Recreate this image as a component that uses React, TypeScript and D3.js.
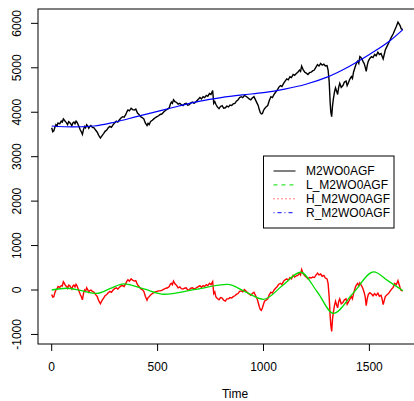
import * as d3 from "d3";

// [time, value] pairs
const levelSeries: [number, number][] = [
  [0, 3650], [5, 3560], [10, 3580], [15, 3660], [20, 3720], [25, 3690], [30, 3760], [38, 3740],
  [45, 3800], [50, 3780], [55, 3850], [60, 3820], [65, 3790], [70, 3760], [75, 3720], [80, 3790],
  [85, 3770], [90, 3740], [95, 3700], [100, 3760], [105, 3780], [110, 3740], [115, 3800],
  [120, 3770], [125, 3720], [130, 3660], [135, 3600], [140, 3560], [145, 3500], [150, 3610],
  [155, 3680], [160, 3650], [165, 3720], [170, 3690], [175, 3640], [180, 3680], [185, 3700],
  [192, 3660], [200, 3650], [207, 3600], [215, 3550], [222, 3480], [230, 3420], [237, 3470],
  [245, 3520], [252, 3570], [260, 3600], [267, 3650], [275, 3680], [282, 3660], [290, 3720],
  [297, 3760], [305, 3800], [312, 3780], [320, 3830], [327, 3870], [335, 3900], [342, 3890],
  [350, 3950], [355, 4010], [360, 4050], [367, 4030], [375, 4090], [382, 4060], [390, 4050],
  [397, 4070], [405, 3980], [412, 3950], [420, 3900], [427, 3880], [435, 3850], [442, 3760],
  [450, 3700], [455, 3750], [460, 3720], [467, 3790], [475, 3820], [482, 3850], [490, 3880],
  [497, 3900], [505, 3920], [512, 3950], [520, 3960], [530, 4010], [540, 4050], [547, 4070],
  [555, 4100], [560, 4180], [565, 4230], [570, 4200], [575, 4280], [582, 4240], [590, 4220],
  [597, 4180], [605, 4200], [612, 4170], [620, 4150], [627, 4190], [635, 4200], [642, 4160],
  [650, 4170], [657, 4210], [665, 4230], [672, 4200], [680, 4230], [690, 4280], [700, 4330],
  [707, 4300], [715, 4350], [722, 4330], [730, 4380], [737, 4360], [745, 4420], [752, 4400],
  [760, 4490], [765, 4200], [770, 4240], [775, 4180], [782, 4120], [790, 4080], [797, 4130],
  [805, 4150], [812, 4090], [820, 4100], [827, 4140], [835, 4120], [842, 4160], [850, 4150],
  [857, 4190], [865, 4200], [872, 4250], [880, 4280], [887, 4330], [895, 4350], [902, 4330],
  [910, 4380], [917, 4360], [925, 4330], [932, 4300], [940, 4280], [947, 4320], [955, 4350],
  [960, 4300], [965, 4250], [970, 4200], [975, 4150], [980, 4060], [985, 3990], [990, 3960],
  [995, 3970], [1000, 4040], [1005, 4080], [1012, 4120], [1020, 4150], [1027, 4260],
  [1035, 4350], [1042, 4330], [1050, 4400], [1057, 4450], [1065, 4500], [1072, 4560],
  [1080, 4600], [1087, 4580], [1095, 4650], [1102, 4700], [1110, 4750], [1117, 4730],
  [1125, 4800], [1132, 4780], [1140, 4850], [1147, 4830], [1155, 4870], [1162, 4900],
  [1170, 4950], [1175, 4920], [1180, 5040], [1187, 4960], [1195, 4900], [1202, 4880],
  [1210, 4850], [1217, 4890], [1225, 4900], [1232, 4930], [1240, 4950], [1247, 5010],
  [1255, 5070], [1262, 5040], [1270, 5100], [1277, 5060], [1285, 5080], [1292, 5040],
  [1300, 5050], [1305, 4950], [1310, 4700], [1315, 4200], [1318, 4000], [1322, 3900],
  [1326, 4150], [1330, 4300], [1335, 4450], [1340, 4550], [1345, 4480], [1350, 4400],
  [1355, 4560], [1360, 4650], [1367, 4560], [1375, 4600], [1382, 4680], [1390, 4700],
  [1395, 4600], [1400, 4650], [1407, 4740], [1415, 4800], [1420, 4760], [1425, 4900],
  [1430, 4980], [1435, 5050], [1440, 5120], [1445, 5150], [1450, 5100], [1455, 5250],
  [1460, 5230], [1465, 5200], [1470, 5140], [1475, 5100], [1480, 5020], [1485, 4920],
  [1490, 5060], [1495, 5150], [1502, 5210], [1510, 5250], [1517, 5230], [1525, 5300],
  [1532, 5270], [1540, 5350], [1547, 5300], [1555, 5320], [1560, 5260], [1565, 5200],
  [1570, 5300], [1575, 5400], [1582, 5470], [1590, 5550], [1597, 5620], [1605, 5700],
  [1612, 5760], [1620, 5850], [1627, 5930], [1635, 6030], [1640, 5990], [1645, 5950],
  [1650, 5880], [1658, 5860],
];

const highSeries: [number, number][] = [
  [0, -100], [5, -160], [10, -150], [15, -60], [20, 0], [25, 20], [30, 80], [38, 60],
  [45, 100], [50, 90], [55, 185], [60, 150], [65, 100], [70, 80], [75, 40], [80, 110],
  [85, 100], [90, 60], [95, 20], [100, 90], [105, 110], [110, 70], [115, 130], [120, 90],
  [125, 20], [130, -40], [135, -100], [140, -150], [145, -220], [150, -80], [155, 0],
  [160, -30], [165, 50], [170, 10], [175, -50], [180, -10], [185, 0], [192, -30], [200, -50],
  [207, -100], [215, -150], [222, -240], [230, -310], [237, -240], [245, -180], [252, -130],
  [260, -100], [267, -60], [275, -30], [282, -50], [290, 0], [297, 30], [305, 50], [312, 20],
  [320, 60], [327, 90], [335, 100], [342, 80], [350, 150], [355, 200], [360, 230],
  [367, 200], [375, 250], [382, 220], [390, 200], [397, 210], [405, 120], [412, 80],
  [420, 30], [427, 10], [435, -30], [442, -140], [450, -230], [455, -170], [460, -150],
  [467, -110], [475, -80], [482, -60], [490, -40], [497, -30], [505, -20], [512, -20],
  [520, -10], [530, 20], [540, 40], [547, 50], [555, 80], [560, 130], [565, 150], [570, 120],
  [575, 200], [582, 140], [590, 100], [597, 50], [605, 70], [612, 30], [620, 20], [627, 40],
  [635, 50], [642, 0], [650, 10], [657, 40], [665, 50], [672, 20], [680, 40], [690, 70],
  [700, 100], [707, 60], [715, 100], [722, 80], [730, 120], [737, 100], [745, 150],
  [752, 120], [760, 190], [765, -80], [770, -40], [775, -150], [782, -190], [790, -220],
  [797, -170], [805, -180], [812, -230], [820, -250], [827, -200], [835, -200], [842, -170],
  [850, -180], [857, -150], [865, -130], [872, -100], [880, -80], [887, -30], [895, -20],
  [902, -40], [910, 10], [917, -20], [925, -60], [932, -90], [940, -120], [947, -80],
  [955, -50], [960, -100], [965, -150], [970, -200], [975, -280], [980, -370], [985, -440],
  [990, -460], [995, -400], [1000, -320], [1005, -250], [1012, -230], [1020, -200],
  [1027, -110], [1035, -50], [1042, -70], [1050, 0], [1057, 40], [1065, 80], [1072, 130],
  [1080, 150], [1087, 120], [1095, 200], [1102, 230], [1110, 250], [1117, 220], [1125, 280],
  [1132, 250], [1140, 330], [1147, 290], [1155, 320], [1162, 330], [1170, 380], [1175, 340],
  [1180, 460], [1187, 370], [1195, 320], [1202, 290], [1210, 250], [1217, 280], [1225, 270],
  [1232, 290], [1240, 280], [1247, 330], [1255, 380], [1262, 340], [1270, 360], [1277, 310],
  [1285, 330], [1292, 270], [1300, 250], [1305, 150], [1310, -150], [1315, -600],
  [1318, -800], [1322, -930], [1326, -650], [1330, -500], [1335, -350], [1340, -250],
  [1345, -330], [1350, -400], [1355, -260], [1360, -200], [1367, -310], [1375, -280],
  [1382, -220], [1390, -200], [1395, -320], [1400, -280], [1407, -210], [1415, -150],
  [1420, -200], [1425, -80], [1430, 0], [1435, 80], [1440, 120], [1445, 150], [1450, 90],
  [1455, 160], [1460, 120], [1465, 80], [1470, 20], [1475, -50], [1480, -150], [1485, -350],
  [1490, -190], [1495, -100], [1502, -60], [1510, -90], [1517, -130], [1525, -80],
  [1532, -120], [1540, -70], [1547, -140], [1555, -120], [1560, -200], [1565, -330],
  [1570, -240], [1575, -150], [1582, -110], [1590, -80], [1597, -30], [1605, 20],
  [1612, 60], [1620, 150], [1627, 120], [1635, 210], [1640, 130], [1645, 50], [1650, -10],
  [1658, -20],
];

const lowSeries: [number, number][] = [
  [0, 0], [70, 40], [140, -15], [212, -75], [275, 30], [340, 140], [435, 25], [530, -95],
  [680, 15], [830, 125], [915, -40], [1000, -210], [1090, 100], [1175, 400], [1255, -50],
  [1330, -525], [1425, -60], [1520, 410], [1590, 200], [1658, -15],
];

const trendSeries: [number, number][] = [
  [0, 3690], [100, 3670], [200, 3690], [300, 3780], [400, 3900], [500, 4020], [600, 4140],
  [700, 4250], [800, 4330], [900, 4390], [1000, 4440], [1100, 4520], [1200, 4630],
  [1300, 4790], [1400, 5020], [1500, 5300], [1600, 5620], [1658, 5860],
];

const xTicks = [0, 500, 1000, 1500];
const yTicks = [-1000, 0, 1000, 2000, 3000, 4000, 5000, 6000];
const legendNames = ["M2WO0AGF", "L_M2WO0AGF", "H_M2WO0AGF", "R_M2WO0AGF"];
const legendColors = ["#000000", "#00dd00", "#ff0000", "#0000ff"];
const legendDash = ["", "4 4", "1 3", "1 3 4 3"];

export default function App() {
  const width = 414;
  const height = 401;
  const left = 38;
  const right = 432;
  const top = 9;
  const bottom = 344;
  const font = "'Liberation Sans', Arial, Helvetica, sans-serif";

  const x = d3.scaleLinear().domain([-64.7, 1795.6]).range([left, right]);
  const y = d3.scaleLinear().domain([-1215, 6323]).range([bottom, top]);

  const line = d3
    .line<[number, number]>()
    .x((d) => x(d[0]))
    .y((d) => y(d[1]));
  const smooth = d3
    .line<[number, number]>()
    .x((d) => x(d[0]))
    .y((d) => y(d[1]))
    .curve(d3.curveMonotoneX);

  const legendX = 263.5;
  const legendY = 156;

  return (
    <svg
      width={width}
      height={height}
      style={{ position: "fixed", left: 0, top: 0, background: "#fff" }}
      fontFamily={font}
    >
      <rect width={width} height={height} fill="#fff" />
      <path d={line(levelSeries) ?? ""} fill="none" stroke="#000" strokeWidth={1.4} />
      <path d={smooth(trendSeries) ?? ""} fill="none" stroke="#0000ff" strokeWidth={1.2} />
      <path d={line(highSeries) ?? ""} fill="none" stroke="#ff0000" strokeWidth={1.4} />
      <path d={smooth(lowSeries) ?? ""} fill="none" stroke="#00dd00" strokeWidth={1.3} />

      {/* plot box */}
      <rect
        x={left}
        y={top}
        width={right - left}
        height={bottom - top}
        fill="none"
        stroke="#000"
        strokeWidth={1}
      />

      {/* x axis */}
      <g>
        {xTicks.map((t) => (
          <g key={t}>
            <line x1={x(t)} x2={x(t)} y1={bottom} y2={bottom + 7} stroke="#000" />
            <text x={x(t)} y={371} textAnchor="middle" fontSize={12}>
              {t}
            </text>
          </g>
        ))}
        <text x={(left + right) / 2} y={398} textAnchor="middle" fontSize={12}>
          Time
        </text>
      </g>

      {/* y axis */}
      <g>
        {yTicks.map((t) => (
          <g key={t}>
            <line x1={left - 7} x2={left} y1={y(t)} y2={y(t)} stroke="#000" />
            <text
              transform={`translate(20.5, ${y(t)}) rotate(-90)`}
              textAnchor="middle"
              fontSize={12}
            >
              {t}
            </text>
          </g>
        ))}
      </g>

      {/* legend */}
      <g transform={`translate(${legendX}, ${legendY})`}>
        <rect x={0} y={0} width={130.5} height={72} fill="#fff" stroke="#000" />
        {legendNames.map((name, i) => (
          <g key={name} transform={`translate(0, ${15 + i * 13.9})`}>
            <line
              x1={10}
              x2={32}
              y1={0}
              y2={0}
              stroke={legendColors[i]}
              strokeDasharray={legendDash[i]}
            />
            <text x={42.5} y={0} dy="0.35em" fontSize={12}>
              {name}
            </text>
          </g>
        ))}
      </g>
    </svg>
  );
}
